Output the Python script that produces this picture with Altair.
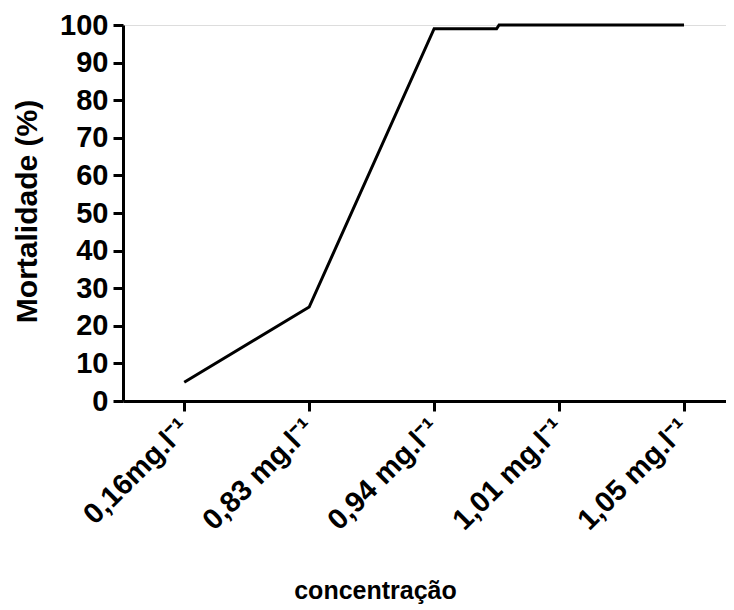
import altair as alt
import pandas as pd

# categories (x tick labels) and mortality values
concentracoes = ["0,16mg.l⁻¹", "0,83 mg.l⁻¹", "0,94 mg.l⁻¹", "1,01 mg.l⁻¹", "1,05 mg.l⁻¹"]
cat_index = [0, 1, 2, 3, 4]
mortalidade = [5, 25, 99, 100, 100]

# line vertices (includes the small step between 0,94 and 1,01)
line_pos = [0, 1, 2, 2.5, 2.52, 3, 4]
line_val = [5, 25, 99, 99, 100, 100, 100]

df = pd.DataFrame({"pos": line_pos, "val": line_val})

label_array = "[" + ",".join("'" + c + "'" for c in concentracoes) + "]"

FONT = "Liberation Sans"

chart = alt.Chart(df).mark_line(color="black", strokeWidth=3, clip=False).encode(
    x=alt.X(
        "pos:Q",
        scale=alt.Scale(domain=[-0.49, 4.336], nice=False, zero=False),
        axis=alt.Axis(
            values=cat_index,
            labelExpr=label_array + "[datum.value]",
            labelAngle=-45,
            labelAlign="right",
            labelBaseline="middle",
            labelFontSize=29,
            labelFont=FONT,
            labelFontWeight="bold",
            labelColor="black",
            labelPadding=12,
            tickSize=10,
            tickWidth=3,
            tickColor="black",
            domainWidth=3,
            domainColor="black",
            grid=False,
            title="concentração",
            titleFont=FONT,
            titleFontSize=25,
            titleFontWeight="bold",
            titleColor="black",
            titleX=252,
            titleY=197,
            titleAlign="center",
            titleBaseline="alphabetic",
            labelOverlap=False,
        ),
    ),
    y=alt.Y(
        "val:Q",
        scale=alt.Scale(domain=[0, 100], nice=False),
        axis=alt.Axis(
            values=[0, 10, 20, 30, 40, 50, 60, 70, 80, 90, 100],
            labelFontSize=29,
            labelFont=FONT,
            labelFontWeight="bold",
            labelColor="black",
            labelPadding=5,
            tickSize=10,
            tickWidth=3,
            tickColor="black",
            domainWidth=3,
            domainColor="black",
            grid=False,
            title="Mortalidade (%)",
            titleFont=FONT,
            titleFontSize=30,
            titleFontWeight="bold",
            titleColor="black",
            titleAngle=-90,
            titleX=-87,
            titleY=186,
            titleAlign="center",
            titleBaseline="alphabetic",
            labelOverlap=False,
        ),
    ),
).properties(
    width=603,
    height=376,
    autosize=alt.AutoSizeParams(type="none"),
    padding={"left": 115, "top": 17, "right": 0, "bottom": 205},
).configure_view(stroke=None).configure(background="white")

chart.save("out.html", embed_options={"renderer": "svg", "actions": False})
